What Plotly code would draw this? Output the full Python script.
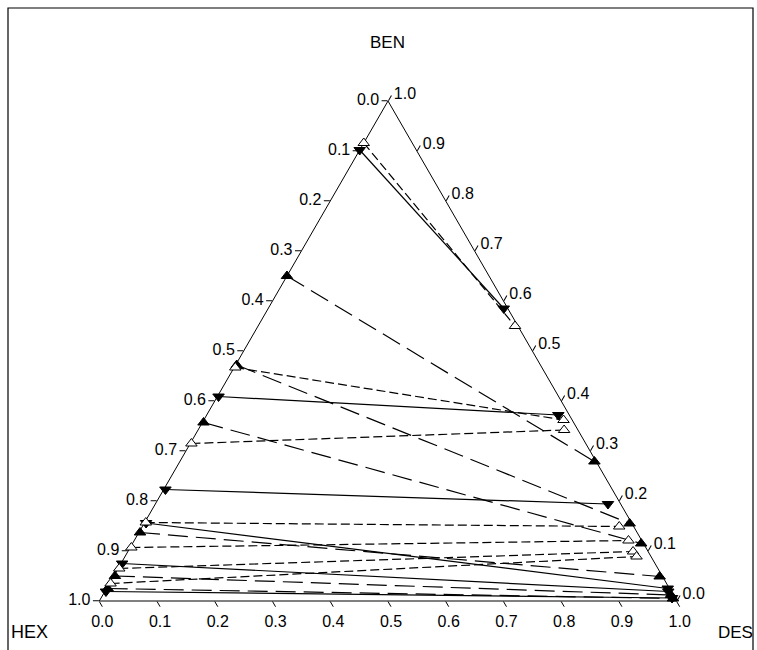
import plotly.graph_objects as go

# Tie-line data (mole fractions). Raffinate = HEX-rich phase, extract = DES-rich phase.
# Series 1: filled down-triangles, solid tie lines
s1_raf_ben = [0.902, 0.409, 0.223, 0.156, 0.075, 0.019]
s1_raf_des = [0.000, 0.002, 0.003, 0.003, 0.002, 0.002]
s1_ext_ben = [0.585, 0.372, 0.194, 0.025, 0.019, 0.006]
s1_ext_des = [0.408, 0.609, 0.784, 0.972, 0.976, 0.989]

# Series 2: filled up-triangles, long-dash tie lines
s2_raf_ben = [0.650, 0.472, 0.357, 0.137, 0.050, 0.025]
s2_raf_des = [0.000, 0.002, 0.002, 0.002, 0.002, 0.002]
s2_ext_ben = [0.279, 0.155, 0.115, 0.049, 0.012, 0.005]
s2_ext_des = [0.718, 0.841, 0.881, 0.946, 0.984, 0.991]

# Series 3: open up-triangles, short-dash tie lines
s3_raf_ben = [0.916, 0.467, 0.315, 0.157, 0.107, 0.065, 0.035]
s3_raf_des = [0.000, 0.002, 0.002, 0.002, 0.002, 0.002, 0.002]
s3_ext_ben = [0.550, 0.362, 0.342, 0.149, 0.121, 0.099, 0.089]
s3_ext_des = [0.445, 0.623, 0.634, 0.826, 0.856, 0.875, 0.886]

tick_vals = [i / 10 for i in range(11)]

FONT = "Liberation Sans, Arial, sans-serif"


def tie_arrays(raf_ben, raf_des, ext_ben, ext_des):
    """Interleave raffinate/extract points with gaps so each pair forms one tie line."""
    a, b, c = [], [], []
    for rb, rd, eb, ed in zip(raf_ben, raf_des, ext_ben, ext_des):
        a += [rb, eb, None]
        c += [rd, ed, None]
        b += [1 - rb - rd, 1 - eb - ed, None]
    return a, b, c


def series(raf_ben, raf_des, ext_ben, ext_des, symbol, fill, dash):
    a, b, c = tie_arrays(raf_ben, raf_des, ext_ben, ext_des)
    return go.Scatterternary(
        a=a, b=b, c=c,
        mode="lines+markers",
        line=dict(color="black", width=1.2, dash=dash),
        marker=dict(symbol=symbol, size=10, color=fill,
                    line=dict(color="black", width=1)),
        connectgaps=False,
        cliponaxis=False,
        showlegend=False,
        hoverinfo="skip",
    )


fig = go.Figure()
fig.add_trace(series(s1_raf_ben, s1_raf_des, s1_ext_ben, s1_ext_des,
                     "triangle-down", "black", "solid"))
fig.add_trace(series(s2_raf_ben, s2_raf_des, s2_ext_ben, s2_ext_des,
                     "triangle-up", "black", "20px,8px"))
fig.add_trace(series(s3_raf_ben, s3_raf_des, s3_ext_ben, s3_ext_des,
                     "triangle-up", "white", "9px,4px"))


def axis(ticktext):
    return dict(
        title=dict(text=""),
        min=0,
        showgrid=False,
        linecolor="black",
        linewidth=1,
        ticks="outside",
        ticklen=6,
        tickcolor="black",
        tickvals=tick_vals,
        ticktext=ticktext,
        tickfont=dict(family=FONT, size=16, color="black"),
        layer="below traces",
    )


# Each edge is labelled with the fraction of the component whose value runs along it:
# left edge -> HEX, bottom edge -> DES, right edge -> BEN.
left_labels = [f"{1 - v:.1f}" for v in tick_vals]
bottom_labels = [f"{1 - v:.1f}" for v in tick_vals]
right_labels = [f"{1 - v:.1f}" for v in tick_vals]

fig.update_layout(
    width=757,
    height=650,
    margin=dict(l=0, r=0, t=0, b=0),
    paper_bgcolor="white",
    plot_bgcolor="white",
    font=dict(family=FONT, color="black"),
    ternary=dict(
        sum=1,
        bgcolor="white",
        domain=dict(x=[99 / 757, 677 / 757], y=[49 / 650, 549 / 650]),
        aaxis=axis(left_labels),
        baxis=axis(bottom_labels),
        caxis=axis(right_labels),
    ),
    annotations=[
        dict(text="BEN", xref="paper", yref="paper", x=387 / 757, y=608 / 650,
             showarrow=False, xanchor="center", yanchor="middle",
             font=dict(family=FONT, size=17, color="black")),
        dict(text="HEX", xref="paper", yref="paper", x=29 / 757, y=18 / 650,
             showarrow=False, xanchor="center", yanchor="middle",
             font=dict(family=FONT, size=18, color="black")),
        dict(text="DES", xref="paper", yref="paper", x=716 / 757, y=18 / 650,
             showarrow=False, xanchor="left", yanchor="middle",
             font=dict(family=FONT, size=17, color="black")),
    ],
    shapes=[
        dict(type="rect", xref="paper", yref="paper",
             x0=8 / 757, x1=753 / 757, y0=-0.05, y1=642 / 650,
             line=dict(color="black", width=1.2), fillcolor="rgba(0,0,0,0)",
             layer="below"),
    ],
)

fig.write_html("out.html")
